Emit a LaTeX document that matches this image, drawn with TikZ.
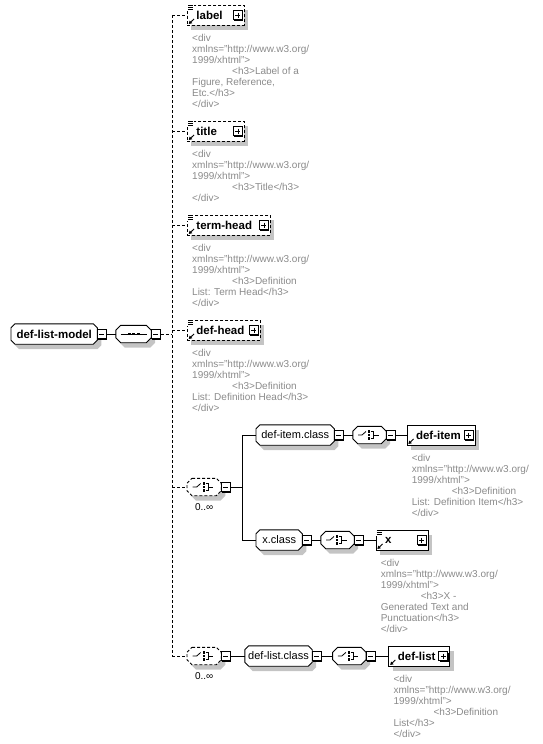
\documentclass[tikz,border=0pt]{standalone}
\usepackage{fontspec}
\setmainfont{Liberation Sans}
\usetikzlibrary{arrows.meta, positioning, backgrounds, shadows, calc}
\definecolor{docGrey}{HTML}{8A8A8A}
\definecolor{shadeGrey}{HTML}{C4C4C4}

% octagon outline round a group or compositor node
\newcommand{\octpath}[2]{($(#1.north west)+(#2,0)$) -- ($(#1.north east)+(-#2,0)$)
  -- ($(#1.north east)+(0,-#2)$) -- ($(#1.south east)+(0,#2)$) -- ($(#1.south east)+(-#2,0)$)
  -- ($(#1.south west)+(#2,0)$) -- ($(#1.south west)+(0,#2)$) -- ($(#1.north west)+(0,-#2)$) -- cycle}
\newcommand{\octo}[3][]{%
  \begin{scope}[on background layer]
    \fill[shadeGrey, transform canvas={shift={(4pt,-5pt)}}] \octpath{#2}{#3};
    \draw[fill=white, line width=0.9pt, #1] \octpath{#2}{#3};
  \end{scope}}
% small marks drawn inside the boxes
\newcommand{\listmark}[1]{%
  \fill[white] ($(#1.north west)+(-0.5,0.5)$) rectangle ++(7,-6.5);
  \foreach \k in {0.5,2.5,4.5}
    \draw[line width=0.9pt] ($(#1.north west)+(1,-\k)$) -- ++(5,0);}
\newcommand{\refmark}[1]{%
  \draw[line width=0.9pt, -{Triangle[length=3pt,width=3.5pt]}]
    ($(#1.south west)+(7,6.5)$) -- ($(#1.south west)+(1.8,1.5)$);}
\newcommand{\choiceicon}[1]{%
  \draw[line width=0.8pt] ($(#1.center)+(-11.5,0)$) -- ++(4,0) -- ++(4,3.5);
  \foreach \k in {-3.5,0,3.5}
    \fill ($(#1.center)+(-0.5,\k)+(-1.2,-1.2)$) rectangle ++(2.4,2.4);
  \draw[line width=0.8pt] ($(#1.center)+(1.5,3.5)$) -- ++(2.5,0) -- ++(0,-7) -- ++(-2.5,0)
    ($(#1.center)+(4,0)$) -- ++(5,0);}
\newcommand{\seqicon}[1]{%
  \draw[line width=0.8pt] ($(#1.center)+(-13,0)$) -- ++(26,0);
  \foreach \k in {-4.5,0,4.5}
    \fill ($(#1.center)+(\k,0)+(-1.5,-1.3)$) rectangle ++(3,2.6);}

\begin{document}
\begin{tikzpicture}[
  x=1pt, y=1pt,
  shade/.style={general shadow={fill=shadeGrey, shadow xshift=4pt, shadow yshift=-5pt}},
  elem/.style={draw, fill=white, line width=0.9pt, shade, anchor=west,
               font=\bfseries\fontsize{11.5}{13}\selectfont, minimum height=20pt,
               inner xsep=0pt, inner ysep=0pt, text width=#1, align=left},
  grp/.style={anchor=west, font=\fontsize{11}{13}\selectfont, minimum height=20pt,
              minimum width=#1, inner xsep=0pt, inner ysep=0pt},
  comp/.style={anchor=west, minimum height=17pt, minimum width=#1, inner sep=0pt},
  opt/.style={dash pattern=on 3pt off 2pt},
  tg/.style={draw, fill=white, line width=0.9pt, minimum size=9pt, inner sep=0pt, anchor=west,
             general shadow={fill=black, shadow xshift=1pt, shadow yshift=-1pt}},
  tgminus/.style={tg, path picture={\draw[line width=0.9pt]
      ([xshift=2pt]path picture bounding box.west) -- ([xshift=-2pt]path picture bounding box.east);}},
  tgplus/.style={tg, anchor=east, path picture={\draw[line width=0.9pt]
      ([xshift=2pt]path picture bounding box.west) -- ([xshift=-2pt]path picture bounding box.east)
      ([yshift=-2pt]path picture bounding box.north) -- ([yshift=2pt]path picture bounding box.south);}},
  doc/.style={anchor=north west, inner sep=0pt, align=left, text=docGrey,
              font=\fontsize{10}{11}\selectfont},
  occ/.style={font=\fontsize{10}{11}\selectfont, inner sep=0pt},
  wire/.style={line width=0.9pt},
]
\useasboundingbox (0,0) rectangle (542,-744);

% root group and its sequence
\node[grp=86, font=\bfseries\fontsize{11.5}{13}\selectfont] (model) at (11,-334) {def-list-model};
\octo{model}{4}
\node[tgminus] (model-tg) at ([xshift=-0.5pt]model.east) {};
\node[comp=35, right=9pt of model-tg] (seq) {};
\octo{seq}{5}
\seqicon{seq}
\node[tgminus] (seq-tg) at ([xshift=-0.5pt]seq.east) {};
\coordinate (bus) at (172,-334);

% optional children on the bus
\node[elem=57, opt] (label) at (187,-15) {\hspace*{9pt}label};
\node[tgplus] (label-tg) at ([xshift=-2pt]label.east) {};
\listmark{label}\refmark{label}
\node[doc] (label-doc) at ([xshift=5pt,yshift=-8.5pt]label.south west)
  {<div\\xmlns="http://www.w3.org/\\1999/xhtml">\\\hspace*{40pt}<h3>Label of a\\Figure, Reference,\\Etc.</h3>\\</div>};

\node[elem=57, opt] (title) at (187,-131) {\hspace*{9pt}title};
\node[tgplus] (title-tg) at ([xshift=-2pt]title.east) {};
\listmark{title}\refmark{title}
\node[doc] (title-doc) at ([xshift=5pt,yshift=-8.5pt]title.south west)
  {<div\\xmlns="http://www.w3.org/\\1999/xhtml">\\\hspace*{40pt}<h3>Title</h3>\\</div>};

\node[elem=83, opt] (termhead) at (187,-225) {\hspace*{9pt}term-head};
\node[tgplus] (termhead-tg) at ([xshift=-2pt]termhead.east) {};
\listmark{termhead}\refmark{termhead}
\node[doc] (termhead-doc) at ([xshift=5pt,yshift=-8.5pt]termhead.south west)
  {<div\\xmlns="http://www.w3.org/\\1999/xhtml">\\\hspace*{40pt}<h3>Definition\\List: Term Head</h3>\\</div>};

\node[elem=73, opt] (defhead) at (187,-330) {\hspace*{9pt}def-head};
\node[tgplus] (defhead-tg) at ([xshift=-2pt]defhead.east) {};
\listmark{defhead}\refmark{defhead}
\node[doc] (defhead-doc) at ([xshift=5pt,yshift=-8.5pt]defhead.south west)
  {<div\\xmlns="http://www.w3.org/\\1999/xhtml">\\\hspace*{40pt}<h3>Definition\\List: Definition Head</h3>\\</div>};

% repeated choice: def-item.class | x.class
\node[comp=34] (choiceA) at (187,-487) {};
\octo[opt]{choiceA}{5}
\choiceicon{choiceA}
\node[tgminus] (choiceA-tg) at ([xshift=-0.5pt]choiceA.east) {};
\node[occ, below=8pt of choiceA] (choiceA-occ) {0..∞};
\coordinate (forkA) at (242,-487);

\node[grp=78] (itemcls) at (256,-435) {def-item.class};
\octo{itemcls}{4}
\node[tgminus] (itemcls-tg) at ([xshift=-0.5pt]itemcls.east) {};
\node[comp=33, right=9pt of itemcls-tg] (itemchoice) {};
\octo{itemchoice}{5}
\choiceicon{itemchoice}
\node[tgminus] (itemchoice-tg) at ([xshift=-0.5pt]itemchoice.east) {};
\node[elem=68, right=11pt of itemchoice-tg] (defitem) {\hspace*{9pt}def-item};
\node[tgplus] (defitem-tg) at ([xshift=-2pt]defitem.east) {};
\refmark{defitem}
\node[doc] (defitem-doc) at ([xshift=5pt,yshift=-8.5pt]defitem.south west)
  {<div\\xmlns="http://www.w3.org/\\1999/xhtml">\\\hspace*{40pt}<h3>Definition\\List: Definition Item</h3>\\</div>};

\node[grp=46] (xcls) at (256,-540) {x.class};
\octo{xcls}{4}
\node[tgminus] (xcls-tg) at ([xshift=-0.5pt]xcls.east) {};
\node[comp=33, right=9pt of xcls-tg] (xchoice) {};
\octo{xchoice}{5}
\choiceicon{xchoice}
\node[tgminus] (xchoice-tg) at ([xshift=-0.5pt]xchoice.east) {};
\node[elem=52, right=12pt of xchoice-tg] (xel) {\hspace*{9pt}x};
\node[tgplus] (xel-tg) at ([xshift=-2pt]xel.east) {};
\listmark{xel}\refmark{xel}
\node[doc] (xel-doc) at ([xshift=5pt,yshift=-8.5pt]xel.south west)
  {<div\\xmlns="http://www.w3.org/\\1999/xhtml">\\\hspace*{40pt}<h3>X -\\Generated Text and\\Punctuation</h3>\\</div>};

% repeated choice: def-list.class
\node[comp=34] (choiceB) at (187,-656) {};
\octo[opt]{choiceB}{5}
\choiceicon{choiceB}
\node[tgminus] (choiceB-tg) at ([xshift=-0.5pt]choiceB.east) {};
\node[occ, below=8pt of choiceB] (choiceB-occ) {0..∞};

\node[grp=67, right=14pt of choiceB-tg] (listcls) {def-list.class};
\octo{listcls}{4}
\node[tgminus] (listcls-tg) at ([xshift=-0.5pt]listcls.east) {};
\node[comp=33, right=11pt of listcls-tg] (listchoice) {};
\octo{listchoice}{5}
\choiceicon{listchoice}
\node[tgminus] (listchoice-tg) at ([xshift=-0.5pt]listchoice.east) {};
\node[elem=61, right=13pt of listchoice-tg] (deflist) {\hspace*{9pt}def-list};
\node[tgplus] (deflist-tg) at ([xshift=-2pt]deflist.east) {};
\refmark{deflist}
\node[doc] (deflist-doc) at ([xshift=5pt,yshift=-8.5pt]deflist.south west)
  {<div\\xmlns="http://www.w3.org/\\1999/xhtml">\\\hspace*{40pt}<h3>Definition\\List</h3>\\</div>};

% connectors
\draw[wire] (model-tg) -- (seq);
\draw[wire, opt] (seq-tg) -- (bus);
\draw[wire, opt] (bus |- label) -- (bus |- choiceB);
\foreach \n in {label, title, termhead, defhead, choiceA, choiceB}
  \draw[wire, opt] (bus |- \n) -- (\n);
\draw[wire] (choiceA-tg) -- (forkA) |- (itemcls);
\draw[wire] (forkA) |- (xcls);
\draw[wire] (itemcls-tg) -- (itemchoice);
\draw[wire] (itemchoice-tg) -- (defitem);
\draw[wire] (xcls-tg) -- (xchoice);
\draw[wire] (xchoice-tg) -- (xel);
\draw[wire] (choiceB-tg) -- (listcls);
\draw[wire] (listcls-tg) -- (listchoice);
\draw[wire] (listchoice-tg) -- (deflist);
\end{tikzpicture}
\end{document}
